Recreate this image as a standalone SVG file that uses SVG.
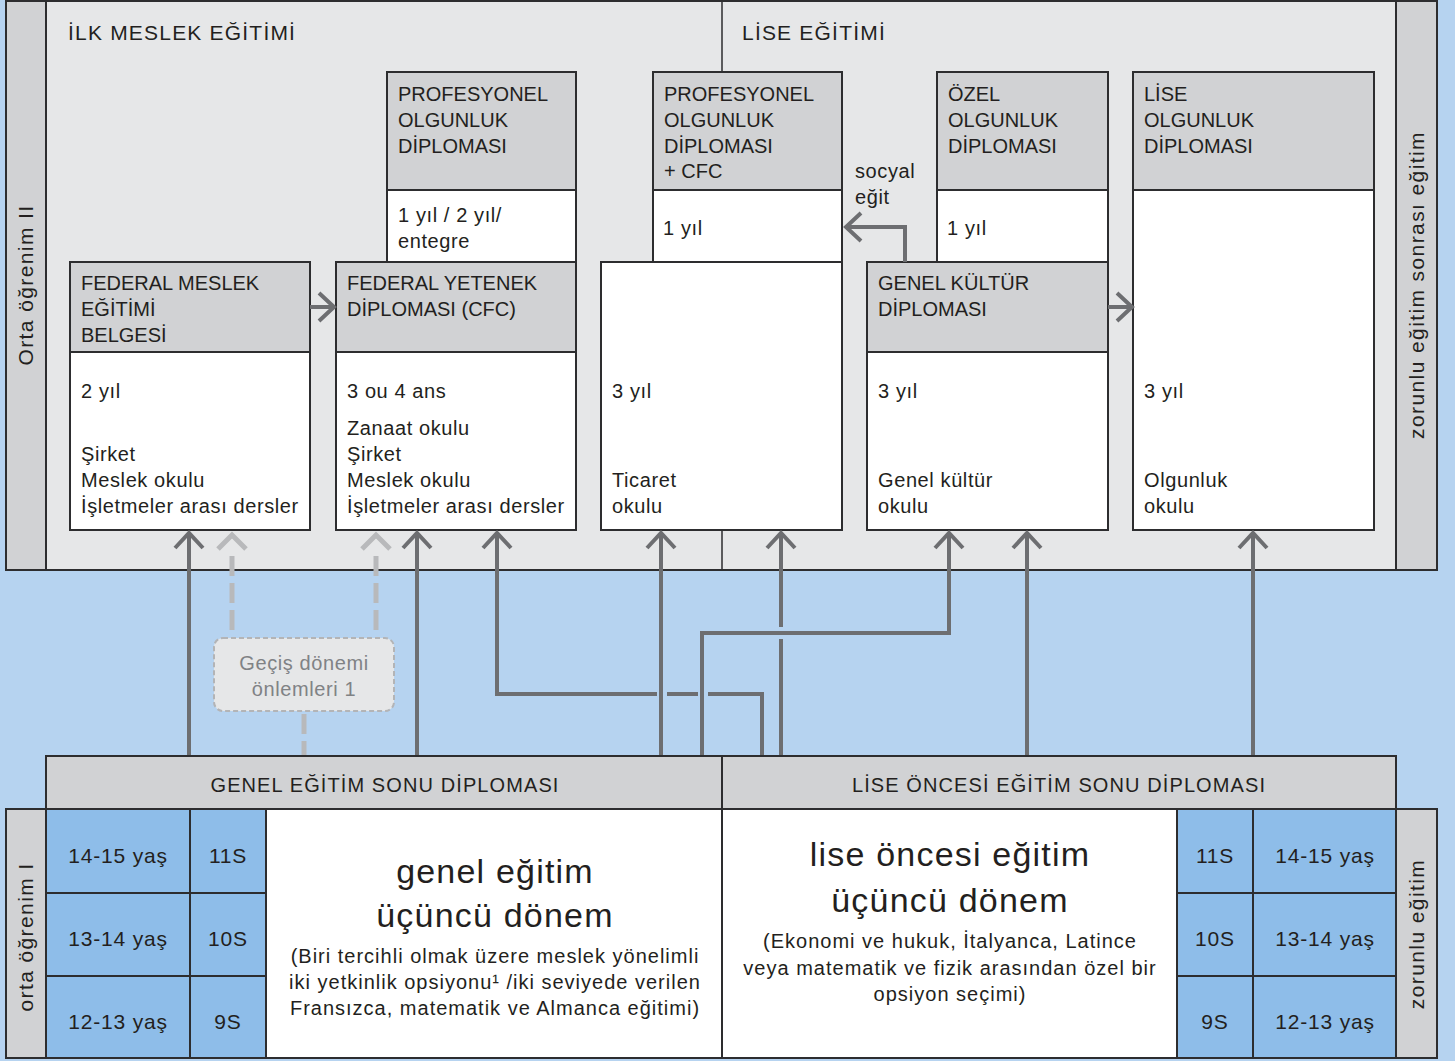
<svg xmlns="http://www.w3.org/2000/svg" width="1455" height="1061" viewBox="0 0 1455 1061">
<style>
.t{font-family:"Liberation Sans",Arial,sans-serif;fill:#231f20}
.hd{font-size:20px}
.bd{font-size:20px;letter-spacing:0.6px}
.ttl{font-size:21px;letter-spacing:1.2px}
.bar{font-size:20px;letter-spacing:1.1px;text-anchor:middle}
.side{font-size:21px;letter-spacing:1.4px;text-anchor:middle}
.big{font-size:34px;letter-spacing:1.2px;text-anchor:middle}
.par{font-size:20px;letter-spacing:1px;text-anchor:middle}
.age{font-size:21px;letter-spacing:0.8px;text-anchor:middle}
.gz{font-size:20px;letter-spacing:0.6px;text-anchor:middle;fill:#808285}
.bx{stroke:#2d2d2f;stroke-width:2}
.hdr{fill:#d1d2d4}
.wh{fill:#ffffff}
.ln{stroke:#2d2d2f;stroke-width:2;fill:none}
.cn{stroke:#6d6e71;stroke-width:4;fill:none}
.dsh{stroke:#b8b9bb;stroke-width:5;fill:none;stroke-dasharray:20 7}
.dchev{stroke:#b8b9bb;stroke-width:5;fill:none}
</style>
<defs>
<marker id="ah" markerUnits="userSpaceOnUse" markerWidth="40" markerHeight="40" refX="0" refY="0" orient="auto" overflow="visible">
<path d="M-15,-14 L0,0 L-15,14" fill="none" stroke="#6d6e71" stroke-width="4"/>
</marker>
</defs>
<rect x="0" y="0" width="1455" height="1061" fill="#b6d3f0"/>

<g id="panel-top">
<rect x="6" y="1" width="1431" height="569" fill="#e6e7e8"/>
<rect x="6" y="1" width="40" height="569" class="hdr"/>
<rect x="1396" y="1" width="41" height="569" class="hdr"/>
<line x1="46" y1="1" x2="46" y2="570" class="ln"/>
<line x1="1396" y1="1" x2="1396" y2="570" class="ln"/>
<line x1="722" y1="1" x2="722" y2="570" stroke="#2d2d2f" stroke-width="1.5"/>
<rect x="6" y="1" width="1431" height="569" class="ln"/>
<text class="t ttl" x="68" y="40">İLK MESLEK EĞİTİMİ</text>
<text class="t ttl" x="742" y="40">LİSE EĞİTİMİ</text>
<text class="t side" transform="translate(33,285) rotate(-90)">Orta öğrenim II</text>
<text class="t side" transform="translate(1424,285) rotate(-90)">zorunlu eğitim sonrası eğitim</text>
<text class="t bd" x="855" y="178">socyal</text>
<text class="t bd" x="855" y="204">eğit</text>
</g>

<g id="node-prof-olgunluk">
<rect x="387" y="72" width="189" height="190" class="wh bx"/>
<rect x="387" y="72" width="189" height="118" class="hdr bx"/>
<text class="t hd" x="398" y="101">PROFESYONEL</text>
<text class="t hd" x="398" y="127">OLGUNLUK</text>
<text class="t hd" x="398" y="153">DİPLOMASI</text>
<text class="t bd" x="398" y="222">1 yıl / 2 yıl/</text>
<text class="t bd" x="398" y="248">entegre</text>
</g>

<g id="node-prof-olgunluk-cfc">
<rect x="653" y="72" width="189" height="190" class="wh bx"/>
<rect x="653" y="72" width="189" height="118" class="hdr bx"/>
<text class="t hd" x="664" y="101">PROFESYONEL</text>
<text class="t hd" x="664" y="127">OLGUNLUK</text>
<text class="t hd" x="664" y="153">DİPLOMASI</text>
<text class="t hd" x="664" y="178">+ CFC</text>
<text class="t bd" x="663" y="235">1 yıl</text>
</g>

<g id="node-ozel-olgunluk">
<rect x="937" y="72" width="171" height="190" class="wh bx"/>
<rect x="937" y="72" width="171" height="118" class="hdr bx"/>
<text class="t hd" x="948" y="101">ÖZEL</text>
<text class="t hd" x="948" y="127">OLGUNLUK</text>
<text class="t hd" x="948" y="153">DİPLOMASI</text>
<text class="t bd" x="947" y="235">1 yıl</text>
</g>

<g id="node-lise-olgunluk">
<rect x="1133" y="72" width="241" height="458" class="wh bx"/>
<rect x="1133" y="72" width="241" height="118" class="hdr bx"/>
<text class="t hd" x="1144" y="101">LİSE</text>
<text class="t hd" x="1144" y="127">OLGUNLUK</text>
<text class="t hd" x="1144" y="153">DİPLOMASI</text>
<text class="t bd" x="1144" y="398">3 yıl</text>
<text class="t bd" x="1144" y="487">Olgunluk</text>
<text class="t bd" x="1144" y="513">okulu</text>
</g>

<g id="node-fed-meslek">
<rect x="70" y="262" width="240" height="268" class="wh bx"/>
<rect x="70" y="262" width="240" height="90" class="hdr bx"/>
<text class="t hd" x="81" y="290">FEDERAL MESLEK</text>
<text class="t hd" x="81" y="316">EĞİTİMİ</text>
<text class="t hd" x="81" y="342">BELGESİ</text>
<text class="t bd" x="81" y="398">2 yıl</text>
<text class="t bd" x="81" y="461">Şirket</text>
<text class="t bd" x="81" y="487">Meslek okulu</text>
<text class="t bd" x="81" y="513">İşletmeler arası dersler</text>
</g>

<g id="node-fed-yetenek">
<rect x="336" y="262" width="240" height="268" class="wh bx"/>
<rect x="336" y="262" width="240" height="90" class="hdr bx"/>
<text class="t hd" x="347" y="290">FEDERAL YETENEK</text>
<text class="t hd" x="347" y="316">DİPLOMASI (CFC)</text>
<text class="t bd" x="347" y="398">3 ou 4 ans</text>
<text class="t bd" x="347" y="435">Zanaat okulu</text>
<text class="t bd" x="347" y="461">Şirket</text>
<text class="t bd" x="347" y="487">Meslek okulu</text>
<text class="t bd" x="347" y="513">İşletmeler arası dersler</text>
</g>

<g id="node-ticaret">
<rect x="601" y="262" width="241" height="268" class="wh bx"/>
<text class="t bd" x="612" y="398">3 yıl</text>
<text class="t bd" x="612" y="487">Ticaret</text>
<text class="t bd" x="612" y="513">okulu</text>
</g>

<g id="node-genel-kultur">
<rect x="867" y="262" width="241" height="268" class="wh bx"/>
<rect x="867" y="262" width="241" height="90" class="hdr bx"/>
<text class="t hd" x="878" y="290">GENEL KÜLTÜR</text>
<text class="t hd" x="878" y="316">DİPLOMASI</text>
<text class="t bd" x="878" y="398">3 yıl</text>
<text class="t bd" x="878" y="487">Genel kültür</text>
<text class="t bd" x="878" y="513">okulu</text>
</g>

<g id="node-gecis">
<rect x="214" y="638" width="180" height="73" rx="9" fill="#e6e7e8" stroke="#b3b4b6" stroke-width="2" stroke-dasharray="5 3"/>
<text class="t gz" x="304" y="670">Geçiş dönemi</text>
<text class="t gz" x="304" y="696">önlemleri 1</text>
</g>

<g id="connectors">
<path class="cn" d="M310,307 H334" marker-end="url(#ah)"/>
<path class="cn" d="M1108,307 H1132" marker-end="url(#ah)"/>
<path class="cn" d="M905,262 V227 H846" marker-end="url(#ah)"/>
<path class="cn" d="M189,756 V533" marker-end="url(#ah)"/>
<path class="cn" d="M417,756 V533" marker-end="url(#ah)"/>
<path class="cn" d="M661,756 V533" marker-end="url(#ah)"/>
<path class="cn" d="M781,756 V639 M781,627 V533" marker-end="url(#ah)"/>
<path class="cn" d="M702,756 V633 H949 V533" marker-end="url(#ah)"/>
<path class="cn" d="M762,756 V694 H708 M698,694 H667 M657,694 H497 V533" marker-end="url(#ah)"/>
<path class="cn" d="M1027,756 V533" marker-end="url(#ah)"/>
<path class="cn" d="M1253,756 V533" marker-end="url(#ah)"/>
<path class="dsh" d="M232,630 V556"/>
<path class="dchev" d="M218,549 L232,535 L246,549"/>
<path class="dsh" d="M376,630 V556"/>
<path class="dchev" d="M362,549 L376,535 L390,549"/>
<path class="dsh" d="M304,714 V756" stroke-dasharray="13 7"/>
</g>

<g id="bar-genel">
<rect x="46" y="756" width="676" height="53" class="hdr bx"/>
<text class="t bar" x="385" y="792">GENEL EĞİTİM SONU DİPLOMASI</text>
</g>
<g id="bar-lise">
<rect x="722" y="756" width="674" height="53" class="hdr bx"/>
<text class="t bar" x="1059" y="792">LİSE ÖNCESİ EĞİTİM SONU DİPLOMASI</text>
</g>

<g id="panel-bottom">
<rect x="6" y="809" width="1431" height="249" class="wh"/>
<rect x="6" y="809" width="40" height="249" class="hdr"/>
<rect x="1396" y="809" width="41" height="249" class="hdr"/>
<rect x="46" y="809" width="220" height="249" fill="#8ebde9"/>
<rect x="1177" y="809" width="219" height="249" fill="#8ebde9"/>
<path class="ln" d="M46,809 V1058 M190,809 V1058 M266,809 V1058 M722,809 V1058 M1177,809 V1058 M1253,809 V1058 M1396,809 V1058 M46,893 H266 M46,976 H266 M1177,893 H1396 M1177,976 H1396"/>
<rect x="6" y="809" width="1431" height="249" class="ln"/>
<text class="t side" transform="translate(33,937) rotate(-90)">orta öğrenim I</text>
<text class="t side" transform="translate(1424,934) rotate(-90)">zorunlu eğitim</text>
<text class="t age" x="118" y="863">14-15 yaş</text>
<text class="t age" x="118" y="946">13-14 yaş</text>
<text class="t age" x="118" y="1029">12-13 yaş</text>
<text class="t age" x="228" y="863">11S</text>
<text class="t age" x="228" y="946">10S</text>
<text class="t age" x="228" y="1029">9S</text>
<text class="t age" x="1215" y="863">11S</text>
<text class="t age" x="1215" y="946">10S</text>
<text class="t age" x="1215" y="1029">9S</text>
<text class="t age" x="1325" y="863">14-15 yaş</text>
<text class="t age" x="1325" y="946">13-14 yaş</text>
<text class="t age" x="1325" y="1029">12-13 yaş</text>
<text class="t big" x="495" y="883">genel eğitim</text>
<text class="t big" x="495" y="927">üçüncü dönem</text>
<text class="t par" x="495" y="963">(Biri tercihli olmak üzere meslek yönelimli</text>
<text class="t par" x="495" y="989">iki yetkinlik opsiyonu¹ /iki seviyede verilen</text>
<text class="t par" x="495" y="1015">Fransızca, matematik ve Almanca eğitimi)</text>
<text class="t big" x="950" y="866">lise öncesi eğitim</text>
<text class="t big" x="950" y="912">üçüncü dönem</text>
<text class="t par" x="950" y="948">(Ekonomi ve hukuk, İtalyanca, Latince</text>
<text class="t par" x="950" y="975">veya matematik ve fizik arasından özel bir</text>
<text class="t par" x="950" y="1001">opsiyon seçimi)</text>
</g>
</svg>
